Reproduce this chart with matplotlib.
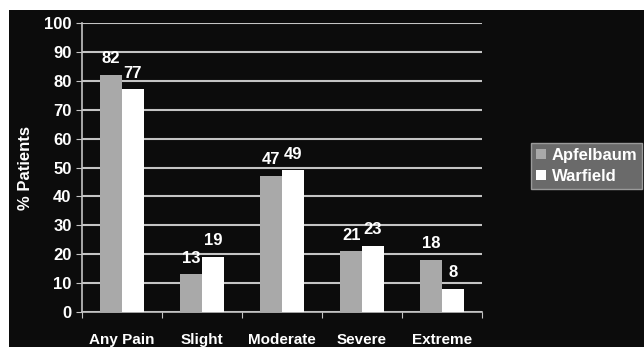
import matplotlib
matplotlib.use("Agg")
import matplotlib.pyplot as plt
import numpy as np
from matplotlib.patches import Rectangle

categories = ["Any Pain", "Slight", "Moderate", "Severe", "Extreme"]
apfelbaum = [82, 13, 47, 21, 18]
warfield = [77, 19, 49, 23, 8]
series_names = ["Apfelbaum", "Warfield"]

BG = "#0c0c0c"
GRAY = "#a9a9a9"
LINE = "#c4c4c4"
FS = 12
FS_CAT = 11

plt.rcParams["font.family"] = ["Liberation Sans", "DejaVu Sans"]

fig = plt.figure(figsize=(6.44, 3.47), dpi=100)
fig.patch.set_facecolor("white")
# black panel (scanned slide has a white strip on top and left)
fig.patches.append(Rectangle((9 / 644, 0), 1 - 9 / 644, 1 - 10 / 347,
                             transform=fig.transFigure, facecolor=BG,
                             edgecolor="none", zorder=-10))

ax = fig.add_axes([82 / 644, 35 / 347, 400 / 644, 289 / 347])
ax.set_facecolor(BG)

x = np.arange(len(categories))
w = 0.27
b1 = ax.bar(x - w / 2, apfelbaum, w, color=GRAY, label=series_names[0], zorder=3)
b2 = ax.bar(x + w / 2, warfield, w, color="white", label=series_names[1], zorder=3)

for bars, vals in ((b1, apfelbaum), (b2, warfield)):
    for bar, v in zip(bars, vals):
        ax.text(bar.get_x() + bar.get_width() / 2, v + 3, str(v),
                ha="center", va="bottom", color="white",
                fontsize=FS, fontweight="bold")

ax.set_xlim(-0.5, len(categories) - 0.5)
ax.set_ylim(0, 100)
ax.set_yticks(range(0, 101, 10))
ax.yaxis.grid(True, color=LINE, linewidth=1.5, zorder=0)
ax.set_axisbelow(True)

ax.set_xticks(np.arange(-0.5, len(categories), 1.0))
ax.set_xticklabels([])
ax.set_xticks(x, minor=True)
ax.set_xticklabels(categories, minor=True)
ax.tick_params(axis="x", which="major", length=4, color=LINE, direction="out")
ax.tick_params(axis="x", which="minor", length=0, pad=15, colors="white",
               labelsize=FS_CAT)
ax.tick_params(axis="y", length=4, color=LINE, colors="white", labelsize=FS)
for lbl in ax.get_xticklabels(minor=True) + ax.get_yticklabels():
    lbl.set_fontweight("bold")

for side in ("top", "right"):
    ax.spines[side].set_visible(False)
for side in ("left", "bottom"):
    ax.spines[side].set_color(LINE)
    ax.spines[side].set_linewidth(1.2)

ax.set_ylabel("% Patients", color="white", fontsize=FS, fontweight="bold",
              labelpad=8)

leg = fig.legend(loc="upper left", bbox_to_anchor=(531 / 644, 1 - 143 / 347),
                 frameon=True, fancybox=False, fontsize=FS,
                 handlelength=0.6, handleheight=0.6, handletextpad=0.35,
                 borderpad=0.3, labelspacing=0.35, borderaxespad=0)
leg.get_frame().set_facecolor("#6a6a6a")
leg.get_frame().set_edgecolor("#9a9a9a")
leg.get_frame().set_alpha(1)
for t in leg.get_texts():
    t.set_color("white")
    t.set_fontweight("bold")

fig.savefig("out.png", dpi=100, facecolor=fig.get_facecolor())
